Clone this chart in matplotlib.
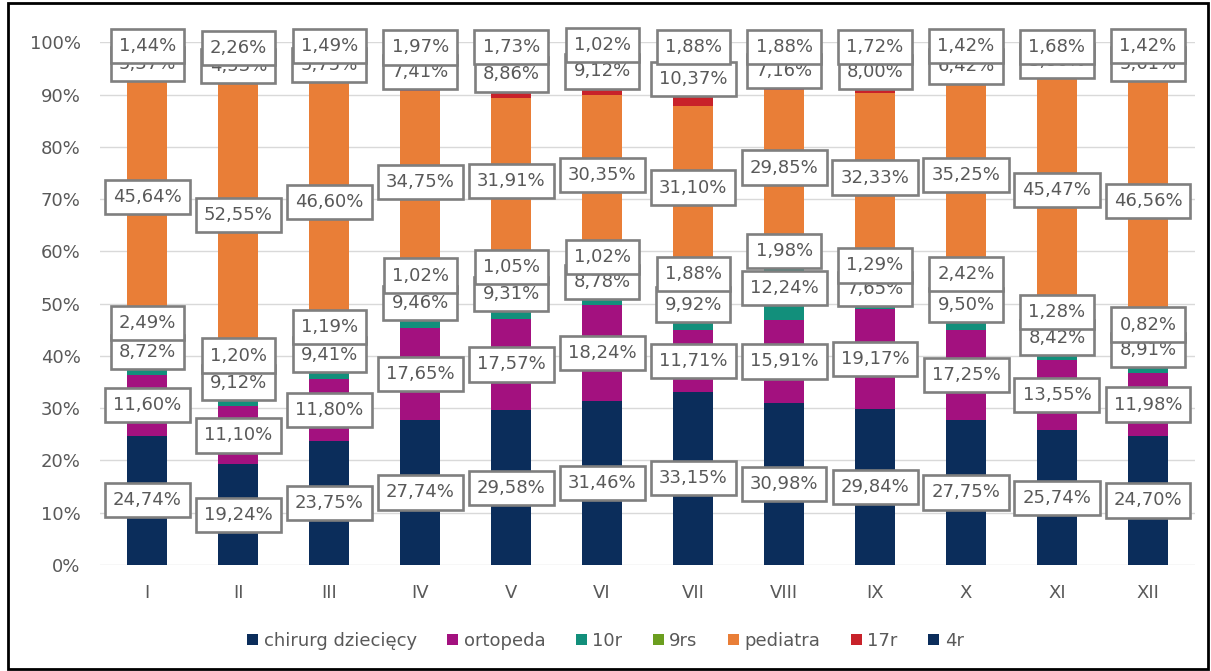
import matplotlib.pyplot as plt
from matplotlib.patches import Rectangle

months = ["I", "II", "III", "IV", "V", "VI", "VII", "VIII", "IX", "X", "XI", "XII"]

chirurg = [24.74, 19.24, 23.75, 27.74, 29.58, 31.46, 33.15, 30.98, 29.84, 27.75, 25.74, 24.70]
ortopeda = [11.60, 11.10, 11.80, 17.65, 17.57, 18.24, 11.71, 15.91, 19.17, 17.25, 13.55, 11.98]
r10 = [8.72, 9.12, 9.41, 9.46, 9.31, 8.78, 9.92, 12.24, 7.65, 9.50, 8.42, 8.91]
r9s = [2.49, 1.20, 1.19, 1.02, 1.05, 1.02, 1.88, 1.98, 1.29, 2.42, 1.28, 0.82]
pediatra = [45.64, 52.55, 46.60, 34.75, 31.91, 30.35, 31.10, 29.85, 32.33, 35.25, 45.47, 46.56]
r17 = [5.37, 4.53, 5.75, 7.41, 8.86, 9.12, 10.37, 7.16, 8.00, 6.42, 3.86, 5.61]
r4 = [1.44, 2.26, 1.49, 1.97, 1.73, 1.02, 1.88, 1.88, 1.72, 1.42, 1.68, 1.42]

series = [
    ("chirurg dziecięcy", chirurg, "#0B2D5B"),
    ("ortopeda", ortopeda, "#A3117F"),
    ("10r", r10, "#128F7B"),
    ("9rs", r9s, "#6B9E1F"),
    ("pediatra", pediatra, "#E97E37"),
    ("17r", r17, "#C8222A"),
    ("4r", r4, "#0B2D5B"),
]

txt_col = "#595959"

fig = plt.figure(figsize=(12.11, 6.71), dpi=100)
ax = fig.add_axes([0.0826, 0.158, 0.9044, 0.779])

x = list(range(len(months)))
bottom = [0.0] * len(months)
z = 5
for name, vals, col in series:
    ax.bar(x, vals, 0.44, bottom=bottom, color=col, label=name, zorder=2)
    # boxed value labels, later series sit on top of earlier ones
    for i, v in enumerate(vals):
        ax.text(i, bottom[i] + v / 2, f"{v:.2f}%".replace(".", ","),
                ha="center", va="center", fontsize=13, color=txt_col, zorder=z,
                bbox=dict(boxstyle="square,pad=0.45", fc="white", ec="#7F7F7F", lw=1.9))
        z += 1
    bottom = [b + v for b, v in zip(bottom, vals)]

ax.set_xlim(-0.52, 11.52)
ax.set_ylim(0, 100)
ax.set_yticks(range(0, 101, 10))
ax.set_yticklabels([f"{t}%" for t in range(0, 101, 10)])
ax.set_xticks(x)
ax.set_xticklabels(months)
ax.grid(axis="y", color="#D9D9D9", lw=1, zorder=0)
ax.set_axisbelow(True)
for s in ax.spines.values():
    s.set_visible(False)
ax.tick_params(axis="both", length=0, colors=txt_col, labelsize=13)
ax.tick_params(axis="y", pad=14)
ax.tick_params(axis="x", pad=14)

fig.legend(loc="center", bbox_to_anchor=(0.5, 0.045), ncol=7, frameon=False,
           fontsize=13, handlelength=0.6, handleheight=0.6, handletextpad=0.3,
           columnspacing=1.7, labelcolor=txt_col)

# outer frame
fig.patches.append(Rectangle((8 / 1211, 2 / 671), 1200 / 1211, 666 / 671,
                             transform=fig.transFigure, fill=False, ec="black", lw=2))

fig.savefig("out.png", dpi=100)
